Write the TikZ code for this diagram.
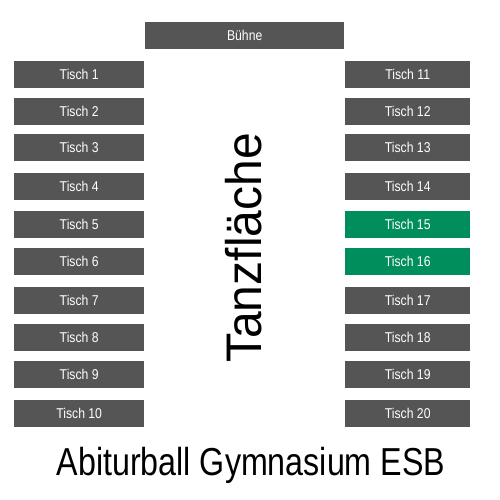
\documentclass[tikz,border=0pt]{standalone}
\usepackage{fontspec}
\setmainfont{Liberation Sans}[FakeStretch=0.86]
\newfontfamily\tanzfont{Liberation Sans}[FakeStretch=0.96]
\newfontfamily\titlefont{Liberation Sans}[FakeStretch=0.826]
\definecolor{boxgray}{HTML}{555555}
\definecolor{boxgreen}{HTML}{008F5C}
\begin{document}
\begin{tikzpicture}[x=1pt,y=-1pt,
  tbl/.style={fill=boxgray,draw=none,text=white,font=\fontsize{14.2}{15}\selectfont,inner sep=0pt},
  tblg/.style={tbl,fill=boxgreen}]
\useasboundingbox (0,0) rectangle (500,500);
\node[tbl,minimum width=199pt,minimum height=27pt,anchor=north west] (buehne) at (145,22) {Bühne};
\foreach \i/\y in {1/61,2/98,3/134,4/173,5/211,6/248,7/287,8/324,9/361,10/400}{
  \node[tbl,minimum width=130pt,minimum height=27pt,anchor=north west] (t\i) at (14,\y) {Tisch \i};
}
\foreach \i/\y in {11/61,12/98,13/134,14/173,17/287,18/324,19/361,20/400}{
  \node[tbl,minimum width=125pt,minimum height=27pt,anchor=north west] (t\i) at (345,\y) {Tisch \i};
}
\foreach \i/\y in {15/211,16/248}{
  \node[tblg,minimum width=125pt,minimum height=27pt,anchor=north west] (t\i) at (345,\y) {Tisch \i};
}
\node[rotate=90,anchor=base,font=\tanzfont\fontsize{50}{50}\selectfont,inner sep=0pt] (tanz) at (261,248) {Tanzfläche};
\node[anchor=base,font=\titlefont\fontsize{39}{40}\selectfont,inner sep=0pt] (title) at (251,475) {Abiturball Gymnasium ESB};
\end{tikzpicture}
\end{document}
